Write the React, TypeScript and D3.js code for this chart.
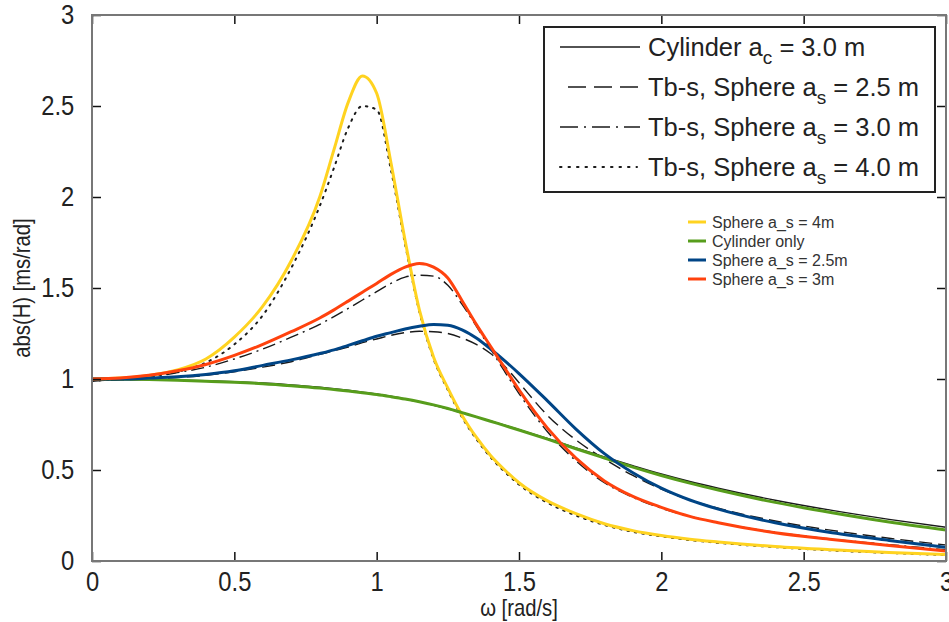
import React, { useEffect, useRef } from 'react';
import * as d3 from 'd3';

// angular frequency grid [rad/s]
const omega = [0, 0.1, 0.2, 0.3, 0.4, 0.5, 0.6, 0.7, 0.8, 0.85, 0.9, 0.95, 1.0, 1.05, 1.1, 1.15, 1.2, 1.25, 1.3, 1.35, 1.4, 1.45, 1.5, 1.6, 1.7, 1.8, 1.9, 2.0, 2.1, 2.2, 2.4, 2.6, 2.8, 3.0];

// black reference curves (Tb-s model)
const tbsCylinder30 = [0.99, 0.995, 0.995, 0.993, 0.99, 0.985, 0.978, 0.968, 0.955, 0.947, 0.938, 0.928, 0.918, 0.905, 0.89, 0.874, 0.856, 0.836, 0.814, 0.792, 0.769, 0.746, 0.722, 0.673, 0.622, 0.572, 0.524, 0.478, 0.437, 0.4, 0.334, 0.278, 0.229, 0.185];
const tbsSphere25 = [0.99, 0.995, 1.0, 1.008, 1.02, 1.04, 1.065, 1.095, 1.135, 1.155, 1.175, 1.2, 1.22, 1.24, 1.255, 1.262, 1.26, 1.25, 1.225, 1.19, 1.14, 1.07, 0.98, 0.8, 0.665, 0.56, 0.47, 0.395, 0.335, 0.29, 0.22, 0.168, 0.125, 0.088];
const tbsSphere30 = [0.99, 1.0, 1.01, 1.035, 1.065, 1.11, 1.165, 1.23, 1.3, 1.343, 1.388, 1.434, 1.48, 1.525, 1.56, 1.57, 1.565, 1.515, 1.41, 1.29, 1.165, 1.04, 0.92, 0.71, 0.55, 0.43, 0.35, 0.29, 0.245, 0.21, 0.158, 0.12, 0.09, 0.062];
const tbsSphere40 = [0.99, 1.0, 1.015, 1.04, 1.09, 1.19, 1.35, 1.61, 1.95, 2.16, 2.38, 2.5, 2.48, 2.15, 1.74, 1.37, 1.11, 0.94, 0.79, 0.67, 0.57, 0.49, 0.42, 0.32, 0.25, 0.198, 0.16, 0.135, 0.115, 0.1, 0.076, 0.058, 0.044, 0.033];

// coloured curves
const sphere4m = [1.0, 1.005, 1.02, 1.05, 1.11, 1.23, 1.4, 1.65, 2.0, 2.26, 2.52, 2.665, 2.57, 2.19, 1.76, 1.38, 1.12, 0.95, 0.8, 0.68, 0.58, 0.5, 0.43, 0.33, 0.26, 0.205, 0.167, 0.14, 0.12, 0.105, 0.08, 0.062, 0.047, 0.035];
const cylinderOnly = [1.0, 1.0, 0.997, 0.993, 0.988, 0.982, 0.974, 0.963, 0.95, 0.942, 0.934, 0.925, 0.915, 0.903, 0.89, 0.875, 0.858, 0.838, 0.815, 0.792, 0.768, 0.744, 0.72, 0.67, 0.617, 0.566, 0.516, 0.47, 0.428, 0.39, 0.322, 0.265, 0.214, 0.17];
const sphere25m = [1.0, 1.0, 1.005, 1.012, 1.025, 1.045, 1.075, 1.105, 1.14, 1.16, 1.185, 1.21, 1.235, 1.255, 1.275, 1.29, 1.3, 1.295, 1.27, 1.225, 1.165, 1.1, 1.03, 0.88, 0.725, 0.59, 0.485, 0.4, 0.335, 0.285, 0.21, 0.155, 0.113, 0.075];
const sphere3m = [1.0, 1.005, 1.02, 1.045, 1.08, 1.13, 1.19, 1.26, 1.335, 1.38, 1.428, 1.477, 1.525, 1.575, 1.615, 1.635, 1.615, 1.555, 1.43, 1.3, 1.18, 1.06, 0.94, 0.73, 0.565, 0.44, 0.355, 0.295, 0.245, 0.21, 0.155, 0.118, 0.085, 0.055];

const xTicks = [0, 0.5, 1, 1.5, 2, 2.5, 3];
const yTicks = [0, 0.5, 1, 1.5, 2, 2.5, 3];

const blackSeries = [
  { label: 'Cylinder a', sub: 'c', rest: ' = 3.0 m', values: tbsCylinder30, dash: null, legendDash: null },
  { label: 'Tb-s, Sphere a', sub: 's', rest: ' = 2.5 m', values: tbsSphere25, dash: '13,6', legendDash: '18,8' },
  { label: 'Tb-s, Sphere a', sub: 's', rest: ' = 3.0 m', values: tbsSphere30, dash: '13,5,2,5', legendDash: '18,6,2,6' },
  { label: 'Tb-s, Sphere a', sub: 's', rest: ' = 4.0 m', values: tbsSphere40, dash: '1.5,6', legendDash: '1.5,7' },
];

const colorSeries = [
  { label: 'Sphere a_s = 4m', values: sphere4m, color: '#ffd320' },
  { label: 'Cylinder only', values: cylinderOnly, color: '#579d1c' },
  { label: 'Sphere a_s = 2.5m', values: sphere25m, color: '#004586' },
  { label: 'Sphere a_s = 3m', values: sphere3m, color: '#ff420e' },
];

const App = () => {
  const svgRef = useRef<SVGSVGElement>(null);

  useEffect(() => {
    draw();
  }, []);

  const draw = () => {
    const width = 949;
    const height = 622;
    const left = 92, right = 946, top = 15, bottom = 561;
    const font = 'Liberation Sans, Arial, sans-serif';

    const svg = d3.select(svgRef.current)
      .attr('width', width)
      .attr('height', height);
    svg.selectAll('*').remove();

    const x = d3.scaleLinear().domain([0, 3]).range([left, right]);
    const y = d3.scaleLinear().domain([0, 3]).range([bottom, top]);

    svg.append('defs').append('clipPath').attr('id', 'plotArea')
      .append('rect')
      .attr('x', left).attr('y', top)
      .attr('width', right - left).attr('height', bottom - top);

    const line = d3.line<number>()
      .x((d, i) => x(omega[i]))
      .y(d => y(d))
      .curve(d3.curveMonotoneX);

    const plot = svg.append('g').attr('clip-path', 'url(#plotArea)');

    blackSeries.forEach(s => {
      const dotted = s.dash === '1.5,6';
      plot.append('path')
        .attr('d', line(s.values))
        .attr('fill', 'none')
        .attr('stroke', '#1a1a1a')
        .attr('stroke-width', dotted ? 2 : 1.4)
        .attr('stroke-linecap', dotted ? 'round' : 'butt')
        .attr('stroke-dasharray', s.dash);
    });

    colorSeries.forEach(s => {
      plot.append('path')
        .attr('d', line(s.values))
        .attr('fill', 'none')
        .attr('stroke', s.color)
        .attr('stroke-width', 3)
        .attr('stroke-linejoin', 'round');
    });

    // axes, ticks pointing inward on all four sides
    const fmt = d3.format('');
    const tickFont = (g) => g.selectAll('text')
      .attr('font-family', font)
      .attr('font-size', 27)
      .attr('fill', '#222');

    const xAxis = svg.append('g')
      .attr('transform', `translate(0,${bottom})`)
      .call(d3.axisBottom(x).tickValues(xTicks).tickSize(-9).tickSizeOuter(0).tickPadding(11).tickFormat(fmt));
    xAxis.call(tickFont);
    xAxis.selectAll('text').attr('transform', 'scale(0.88,1)');

    const yAxis = svg.append('g')
      .attr('transform', `translate(${left},0)`)
      .call(d3.axisLeft(y).tickValues(yTicks).tickSize(-9).tickSizeOuter(0).tickPadding(16).tickFormat(fmt));
    yAxis.call(tickFont);
    yAxis.selectAll('text').attr('transform', 'scale(0.88,1)').attr('x', -(16 / 0.88) - 2);

    svg.append('g')
      .attr('transform', `translate(0,${top})`)
      .call(d3.axisTop(x).tickValues(xTicks).tickSize(-9).tickSizeOuter(0).tickFormat(() => ''));
    svg.append('g')
      .attr('transform', `translate(${right},0)`)
      .call(d3.axisRight(y).tickValues(yTicks).tickSize(-9).tickSizeOuter(0).tickFormat(() => ''));

    svg.selectAll('.domain').remove();
    svg.selectAll('.tick line').attr('stroke', '#111').attr('stroke-width', 1.5);

    svg.append('rect')
      .attr('x', left).attr('y', top)
      .attr('width', right - left).attr('height', bottom - top)
      .attr('fill', 'none')
      .attr('stroke', '#777')
      .attr('stroke-width', 2);

    svg.append('text')
      .attr('transform', `translate(${(left + right) / 2},${bottom + 55}) scale(0.88,1)`)
      .attr('text-anchor', 'middle')
      .attr('font-family', font)
      .attr('font-size', 23)
      .attr('fill', '#222')
      .text('ω [rad/s]');

    svg.append('text')
      .attr('transform', `translate(30,${(top + bottom) / 2}) rotate(-90) scale(0.88,1)`)
      .attr('text-anchor', 'middle')
      .attr('font-family', font)
      .attr('font-size', 23)
      .attr('fill', '#222')
      .text('abs(H) [ms/rad]');

    // boxed legend for the black curves
    const lg = svg.append('g');
    lg.append('rect')
      .attr('x', 544).attr('y', 27)
      .attr('width', 391).attr('height', 165)
      .attr('fill', '#fff')
      .attr('stroke', '#222')
      .attr('stroke-width', 2);

    blackSeries.forEach((s, i) => {
      const ry = 47 + i * 40;
      const dotted = s.dash === '1.5,6';
      lg.append('line')
        .attr('x1', i === 1 ? 568 : 560).attr('x2', dotted ? 637 : 640)
        .attr('y1', ry).attr('y2', ry)
        .attr('stroke', '#1a1a1a')
        .attr('stroke-width', dotted ? 2 : 1.4)
        .attr('stroke-linecap', dotted ? 'round' : 'butt')
        .attr('stroke-dasharray', s.legendDash);
      const t = lg.append('text')
        .attr('x', 648).attr('y', ry + 9)
        .attr('font-family', font)
        .attr('font-size', 25.5)
        .attr('fill', '#222');
      t.append('tspan').text(s.label);
      t.append('tspan').attr('dy', 8).attr('font-size', 19).text(s.sub);
      t.append('tspan').attr('dy', -8).text(s.rest);
    });

    // unboxed legend for the coloured curves
    colorSeries.forEach((s, i) => {
      const ry = 222 + i * 19;
      svg.append('line')
        .attr('x1', 688).attr('x2', 706)
        .attr('y1', ry).attr('y2', ry)
        .attr('stroke', s.color)
        .attr('stroke-width', 3);
      svg.append('text')
        .attr('x', 712).attr('y', ry + 5.5)
        .attr('font-family', font)
        .attr('font-size', 16)
        .attr('fill', '#333')
        .text(s.label);
    });
  };

  return (
    <div style={{ position: 'absolute', left: 0, top: 0 }}>
      <svg ref={svgRef}></svg>
    </div>
  );
};

export default App;
